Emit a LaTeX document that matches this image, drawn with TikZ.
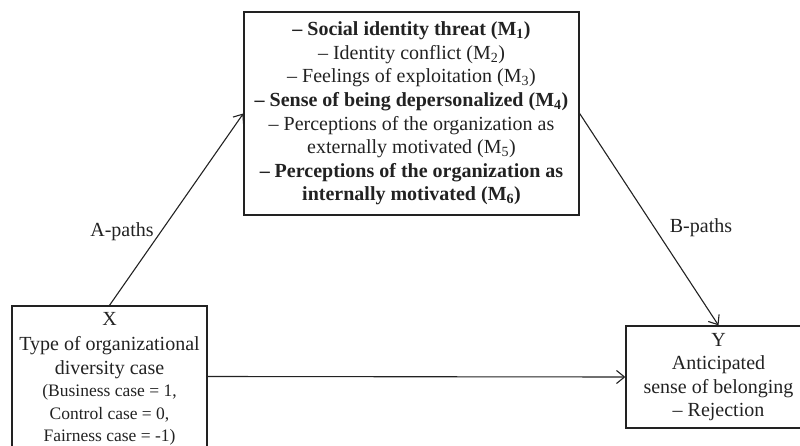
\documentclass[tikz,border=0pt]{standalone}
\usepackage{fontspec}
\setmainfont{Liberation Serif}
\usetikzlibrary{arrows.meta}
\definecolor{ink}{HTML}{222222}
\tikzset{
  box/.style={draw=ink, line width=1.3pt, rectangle, inner sep=0pt, align=center,
    text=ink, font=\fontsize{20}{23.6}\selectfont},
  txt/.style={inner sep=0pt, align=center, text=ink, font=\fontsize{20}{23.6}\selectfont},
  conn/.style={draw=ink, line width=1.1pt, -{Straight Barb[length=8pt,width=13pt,line width=1.1pt]}},
  lab/.style={text=ink, font=\fontsize{20}{24}\selectfont, inner sep=0pt}
}
\newcommand{\sm}{\fontsize{17.5}{22}\selectfont}
\begin{document}
\begin{tikzpicture}[x=1pt,y=-1pt]
\useasboundingbox (0,0) rectangle (800,446);
\node[box, minimum width=335pt, minimum height=203pt] (M) at (411.5,113.5) {%
\textbf{– Social identity threat (M\textsubscript{1})}\\
– Identity conflict (M\textsubscript{2})\\
– Feelings of exploitation (M\textsubscript{3})\\
\textbf{– Sense of being depersonalized (M\textsubscript{4})}\\
– Perceptions of the organization as\\
externally motivated (M\textsubscript{5})\\
\textbf{– Perceptions of the organization as}\\
\textbf{internally motivated (M\textsubscript{6})}};
\node[box, minimum width=195pt, minimum height=141pt] (X) at (109.5,376.5) {};
\node[txt, yshift=-2.5pt] (Xt) at (X.center) {%
X\\[1.5pt]Type of organizational\\diversity case\\[-1pt]
{\sm (Business case = 1,}\\[-1pt]
{\sm Control case = 0,}\\[-1pt]
{\sm Fairness case = -1)}};
\node[box, minimum width=185pt, minimum height=102pt] (Y) at (718.5,377) {%
Y\\Anticipated\\sense of belonging\\– Rejection};
\draw[conn] (X.north) -- (M.west);
\draw[conn] (M.east) -- (Y.north);
\draw[conn] (X.east) -- (Y.west);
\node[lab] (A) at (122,232) {A-paths};
\node[lab] (B) at (701,228) {B-paths};
\end{tikzpicture}
\end{document}
